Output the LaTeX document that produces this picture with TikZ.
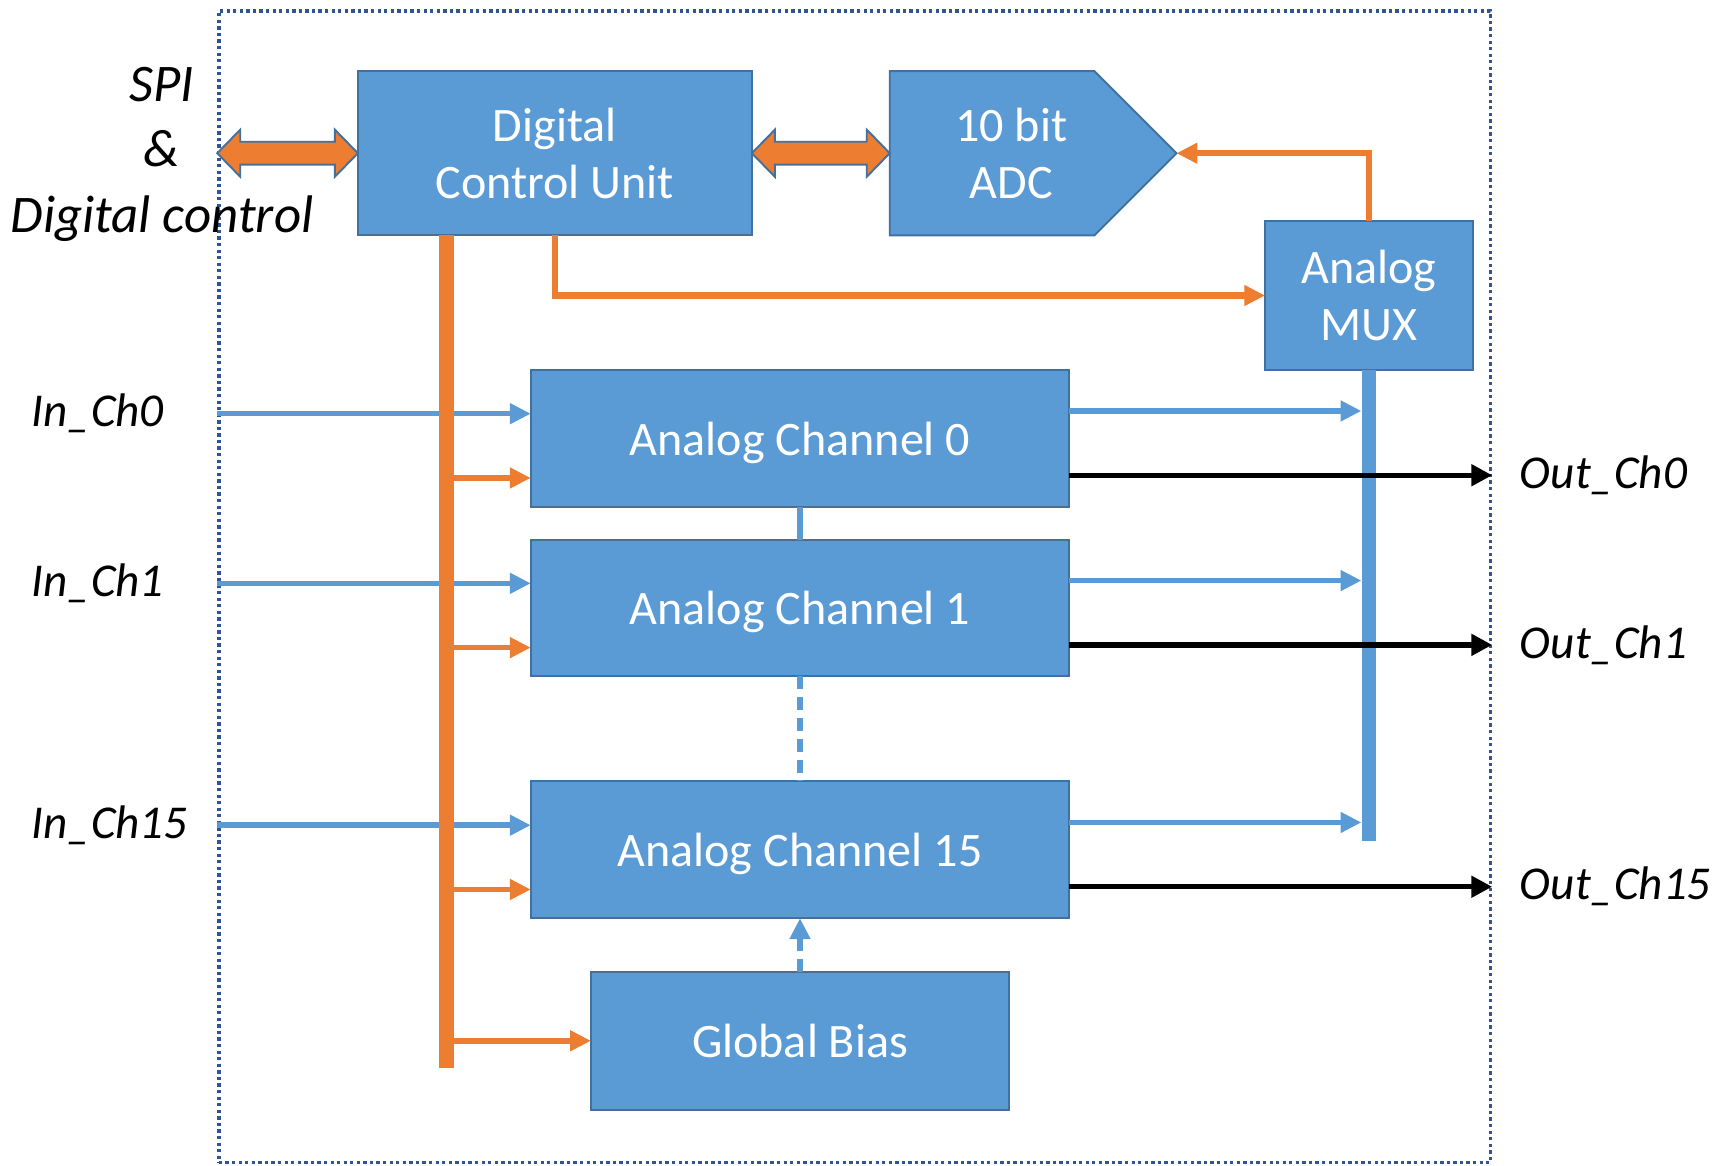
\documentclass[tikz,border=0pt]{standalone}
\usepackage{fontspec}
\setmainfont{Carlito}
\usepackage{tikz}
\usetikzlibrary{arrows.meta, positioning, calc, shapes.symbols}
\definecolor{boxblue}{RGB}{91,155,213}
\definecolor{boxedge}{RGB}{65,113,156}
\definecolor{ctrlorange}{RGB}{237,125,49}
\definecolor{framecol}{RGB}{47,85,151}

\begin{document}
\begin{tikzpicture}[>=Triangle, font=\fontsize{25}{29.6}\selectfont]
  \tikzstyle{block} = [rectangle, draw=boxedge, fill=boxblue, line width=1pt, text=white, align=center, inner sep=0pt, outer sep=0pt]
  \tikzstyle{sig} = [font=\fontsize{24.5}{33}\selectfont\itshape, text=black, inner sep=0pt, align=center]
  \tikzstyle{ctrl} = [ctrlorange, line width=1mm, -{Triangle[length=3.8mm, width=3.6mm]}]
  \tikzstyle{ana} = [boxblue, line width=1mm, -{Triangle[length=3.8mm, width=3.6mm]}]
  \tikzstyle{outp} = [black, line width=1mm, -{Triangle[length=3.8mm, width=3.8mm]}]
  \tikzstyle{bus} = [line width=2.7mm]
  \tikzstyle{bigarrow} = [fill=ctrlorange, draw=boxedge, line width=1pt, line join=miter]

  \useasboundingbox (0,0) rectangle (31.36,-21.3);

  % chip outline
  \node [draw=framecol, line width=0.6mm, dash pattern=on 0.6mm off 0.6mm, minimum width=23.24cm, minimum height=21.04cm, inner sep=0pt] (frame) at (15.62,-10.72) {};

  \node [block, minimum width=7.2cm, minimum height=3cm] (dcu) at (10.14,-2.8) {Digital\\Control Unit};
  \node [block, shape=signal, signal to=east, signal pointer angle=90, minimum width=5.24cm, minimum height=3cm, right=2.52cm of dcu] (adc) {\hspace*{7mm}10 bit\\\hspace*{7mm}ADC};
  \node [block, minimum width=3.8cm, minimum height=2.72cm] (mux) at (25.02,-5.4) {Analog\\MUX};

  \node [block, minimum width=9.84cm, minimum height=2.5cm, text depth=0pt] (ch0) at (14.62,-8.01) {Analog Channel 0};
  \node [block, minimum width=9.84cm, minimum height=2.5cm, text depth=0pt, below=0.6cm of ch0] (ch1) {Analog Channel 1};
  \node [block, minimum width=9.84cm, minimum height=2.5cm, text depth=0pt, below=1.92cm of ch1] (ch15) {Analog Channel 15};
  \node [block, minimum width=7.64cm, minimum height=2.52cm, below=0.98cm of ch15] (bias) {Global Bias};

  \node [sig, font=\fontsize{27.5}{34}\selectfont\itshape] (spi) at (2.96,-2.82) {SPI\\\&\\Digital control};

  % SPI and ADC links
  \draw[bigarrow] (frame.west |- dcu.west) -- ++(0.42,0.43) -- ++(0,-0.22) -- ($(dcu.west)+(-0.42,0.21)$) -- ++(0,0.22) -- (dcu.west) -- ++(-0.42,-0.43) -- ++(0,0.22) -- ($(frame.west |- dcu.west)+(0.42,-0.21)$) -- ++(0,-0.22) -- cycle;
  \draw[bigarrow] (dcu.east) -- ++(0.42,0.43) -- ++(0,-0.22) -- ($(adc.west)+(-0.42,0.21)$) -- ++(0,0.22) -- (adc.west) -- ++(-0.42,-0.43) -- ++(0,0.22) -- ($(dcu.east)+(0.42,-0.21)$) -- ++(0,-0.22) -- cycle;

  % per channel pins and inputs
  \foreach \ch/\num in {ch0/0, ch1/1, ch15/15} {
    \coordinate (\ch-a) at ($(\ch.north west)!0.32!(\ch.south west)$);
    \coordinate (\ch-c) at ($(\ch.north west)!0.79!(\ch.south west)$);
    \coordinate (\ch-m) at ($(\ch.north east)!0.3!(\ch.south east)$);
    \coordinate (\ch-o) at ($(\ch.north east)!0.77!(\ch.south east)$);
    \draw[ana] (frame.west |- \ch-a) -- (\ch-a);
    \node [sig, anchor=west] (in\num) at ($(frame.west |- \ch-a)+(-3.4,0)$) {In\_Ch\num};
    \node [sig, anchor=west] (out\num) at ($(frame.east |- \ch-o)+(0.5,0)$) {Out\_Ch\num};
  }

  % control bus
  \coordinate (bustop) at ($(dcu.south west)+(1.62,0)$);
  \coordinate (busbot) at ($(bustop |- bias.west)+(0,-0.5)$);
  \draw[ctrlorange, bus] (bustop) -- (busbot);
  \foreach \ch in {ch0, ch1, ch15}
    \draw[ctrl] (bustop |- \ch-c) -- (\ch-c);
  \draw[ctrl] (bustop |- bias.west) -- (bias.west);
  \draw[ctrl, line width=1.1mm] (dcu.south) |- (mux.west);
  \draw[ctrl] (mux.north) |- (adc.east);

  % analog bus to the MUX
  \draw[boxblue, bus] (mux.south) -- ($(mux.south |- ch15-m)+(0,-0.34)$);
  \foreach \ch in {ch0, ch1, ch15} {
    \draw[ana] (\ch-m) -- ($(mux.south |- \ch-m)+(-0.14,0)$);
    \draw[outp] (\ch-o) -- (frame.east |- \ch-o);
  }

  \draw[boxblue, line width=1mm] (ch0.south) -- (ch1.north);
  \draw[boxblue, line width=1mm, dash pattern=on 2.4mm off 1.4mm] (ch1.south) -- (ch15.north);
  \draw[ana, dash pattern=on 2.4mm off 1.4mm] (bias.north) -- (ch15.south);
\end{tikzpicture}
\end{document}
